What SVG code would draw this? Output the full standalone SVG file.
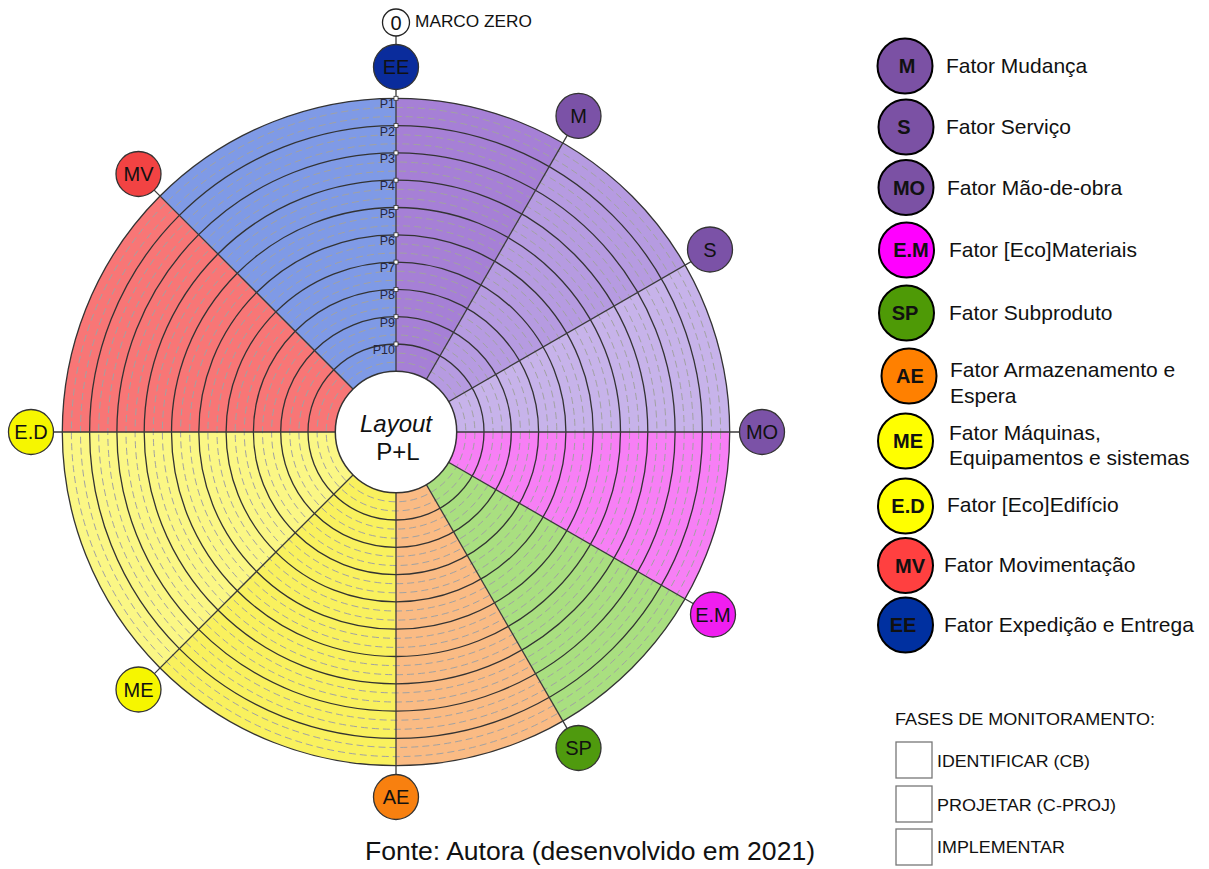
<svg xmlns="http://www.w3.org/2000/svg" width="1209" height="869" viewBox="0 0 1209 869">
  <defs>
    <style>
      text { font-family: "Liberation Sans", Arial, sans-serif; fill: #111; }
      .ring { fill: none; stroke: #333; stroke-width: 1.3; }
      .dash { fill: none; stroke: #a2a2a2; stroke-width: 1; stroke-dasharray: 7 4; }
      .spoke { stroke: #3a3a3a; stroke-width: 1.3; }
      .badge { stroke: #333; stroke-width: 1.3; }
      .badge-t { font-size: 20px; text-anchor: middle; }
      .plab { font-size: 12.5px; text-anchor: end; fill: #262640; }
      .mark { fill: #fff; stroke: #333; stroke-width: 0.8; }
      .leg-c { stroke: #000; stroke-width: 2; }
      .leg-b { font-size: 20px; font-weight: bold; text-anchor: middle; }
      .leg-t { font-size: 21px; }
      .phase { fill: #fff; stroke: #777; stroke-width: 1.3; }
      .phase-t { font-size: 17px; }
    </style>
  </defs>

  <!-- sector wedges, centre (396,432), outer radius 333.7 -->
  <g id="sectors">
    <path d="M396 432 L396 98.3 A333.7 333.7 0 0 0 160.04 196.04 Z" fill="#7f9ae6"/>
    <path d="M396 432 L160.04 196.04 A333.7 333.7 0 0 0 62.3 432 Z" fill="#f87676"/>
    <path d="M396 432 L62.3 432 A333.7 333.7 0 0 0 160.04 667.96 Z" fill="#fbf785"/>
    <path d="M396 432 L160.04 667.96 A333.7 333.7 0 0 0 396 765.7 Z" fill="#f9f15e"/>
    <path d="M396 432 L396 765.7 A333.7 333.7 0 0 0 562.85 721 Z" fill="#fabb84"/>
    <path d="M396 432 L562.85 721 A333.7 333.7 0 0 0 685 598.85 Z" fill="#a9df80"/>
    <path d="M396 432 L685 598.85 A333.7 333.7 0 0 0 729.7 432 Z" fill="#f77ff5"/>
    <path d="M396 432 L729.7 432 A333.7 333.7 0 0 0 685 265.15 Z" fill="#c7b3ea"/>
    <path d="M396 432 L685 265.15 A333.7 333.7 0 0 0 562.85 143 Z" fill="#b69be1"/>
    <path d="M396 432 L562.85 143 A333.7 333.7 0 0 0 396 98.3 Z" fill="#a680d6"/>
  </g>

  <!-- concentric rings: dashed sub-divisions and solid P1..P10 levels -->
  <g id="rings">
    <circle class="dash" cx="396" cy="432" r="69.8"/>
    <circle class="dash" cx="396" cy="432" r="78.9"/>
    <circle class="dash" cx="396" cy="432" r="97.1"/>
    <circle class="dash" cx="396" cy="432" r="106.2"/>
    <circle class="dash" cx="396" cy="432" r="124.4"/>
    <circle class="dash" cx="396" cy="432" r="133.5"/>
    <circle class="dash" cx="396" cy="432" r="151.7"/>
    <circle class="dash" cx="396" cy="432" r="160.8"/>
    <circle class="dash" cx="396" cy="432" r="179"/>
    <circle class="dash" cx="396" cy="432" r="188.1"/>
    <circle class="dash" cx="396" cy="432" r="206.3"/>
    <circle class="dash" cx="396" cy="432" r="215.4"/>
    <circle class="dash" cx="396" cy="432" r="233.6"/>
    <circle class="dash" cx="396" cy="432" r="242.7"/>
    <circle class="dash" cx="396" cy="432" r="260.9"/>
    <circle class="dash" cx="396" cy="432" r="270"/>
    <circle class="dash" cx="396" cy="432" r="288.2"/>
    <circle class="dash" cx="396" cy="432" r="297.3"/>
    <circle class="dash" cx="396" cy="432" r="315.5"/>
    <circle class="dash" cx="396" cy="432" r="324.6"/>
    <circle class="ring" cx="396" cy="432" r="88"/>
    <circle class="ring" cx="396" cy="432" r="115.3"/>
    <circle class="ring" cx="396" cy="432" r="142.6"/>
    <circle class="ring" cx="396" cy="432" r="169.9"/>
    <circle class="ring" cx="396" cy="432" r="197.2"/>
    <circle class="ring" cx="396" cy="432" r="224.5"/>
    <circle class="ring" cx="396" cy="432" r="251.8"/>
    <circle class="ring" cx="396" cy="432" r="279.1"/>
    <circle class="ring" cx="396" cy="432" r="306.4"/>
    <circle class="ring" cx="396" cy="432" r="333.7"/>
  </g>

  <!-- spokes from the core to each factor badge -->
  <g id="connectors">
    <line class="spoke" x1="396" y1="36" x2="396" y2="432"/>
    <line class="spoke" x1="396" y1="432" x2="578.5" y2="115.9"/>
    <line class="spoke" x1="396" y1="432" x2="712.1" y2="249.5"/>
    <line class="spoke" x1="396" y1="432" x2="761" y2="432"/>
    <line class="spoke" x1="396" y1="432" x2="712.1" y2="614.5"/>
    <line class="spoke" x1="396" y1="432" x2="578.5" y2="748.1"/>
    <line class="spoke" x1="396" y1="432" x2="396" y2="797"/>
    <line class="spoke" x1="396" y1="432" x2="137.9" y2="690.1"/>
    <line class="spoke" x1="396" y1="432" x2="31" y2="432"/>
    <line class="spoke" x1="396" y1="432" x2="137.9" y2="173.9"/>
  </g>

  <!-- level markers along the zero axis -->
  <g id="levels">
    <rect class="mark" x="394" y="96.3" width="4" height="4"/>
    <rect class="mark" x="394" y="123.6" width="4" height="4"/>
    <rect class="mark" x="394" y="150.9" width="4" height="4"/>
    <rect class="mark" x="394" y="178.2" width="4" height="4"/>
    <rect class="mark" x="394" y="205.5" width="4" height="4"/>
    <rect class="mark" x="394" y="232.8" width="4" height="4"/>
    <rect class="mark" x="394" y="260.1" width="4" height="4"/>
    <rect class="mark" x="394" y="287.4" width="4" height="4"/>
    <rect class="mark" x="394" y="314.7" width="4" height="4"/>
    <rect class="mark" x="394" y="342" width="4" height="4"/>
    <text class="plab" x="395" y="108.3">P1</text>
    <text class="plab" x="395" y="135.6">P2</text>
    <text class="plab" x="395" y="162.9">P3</text>
    <text class="plab" x="395" y="190.2">P4</text>
    <text class="plab" x="395" y="217.5">P5</text>
    <text class="plab" x="395" y="244.8">P6</text>
    <text class="plab" x="395" y="272.1">P7</text>
    <text class="plab" x="395" y="299.4">P8</text>
    <text class="plab" x="395" y="326.7">P9</text>
    <text class="plab" x="395" y="354">P10</text>
  </g>

  <!-- core -->
  <g id="core">
    <circle cx="396" cy="432" r="60.7" fill="#fff" stroke="#333" stroke-width="1.5"/>
    <text x="396" y="432" font-size="24" font-style="italic" text-anchor="middle">Layout</text>
    <text x="398" y="460" font-size="24" text-anchor="middle">P+L</text>
  </g>

  <!-- origin marker -->
  <g id="marco-zero">
    <circle cx="396" cy="22.5" r="13.5" fill="#fff" stroke="#222" stroke-width="1.3"/>
    <text x="396" y="30" font-size="20" text-anchor="middle">0</text>
    <text x="415" y="26.5" font-size="16.5" textLength="117" lengthAdjust="spacingAndGlyphs">MARCO ZERO</text>
  </g>

  <!-- factor badges -->
  <g id="badge-EE"><circle class="badge" cx="396" cy="67" r="22.5" fill="#0a2c9c"/><text class="badge-t" x="396" y="74">EE</text></g>
  <g id="badge-M"><circle class="badge" cx="578.5" cy="115.9" r="22.5" fill="#7b52a7"/><text class="badge-t" x="578.5" y="123">M</text></g>
  <g id="badge-S"><circle class="badge" cx="710" cy="249.5" r="22.5" fill="#7b52a7"/><text class="badge-t" x="710" y="256.5">S</text></g>
  <g id="badge-MO"><circle class="badge" cx="762" cy="432" r="22.5" fill="#7b52a7"/><text class="badge-t" x="762" y="439">MO</text></g>
  <g id="badge-EM"><circle class="badge" cx="713" cy="614.5" r="22.5" fill="#f01ef0"/><text class="badge-t" x="713" y="621.5">E.M</text></g>
  <g id="badge-SP"><circle class="badge" cx="578.5" cy="748" r="22.5" fill="#4f9a0e"/><text class="badge-t" x="578.5" y="755">SP</text></g>
  <g id="badge-AE"><circle class="badge" cx="396" cy="797" r="22.5" fill="#f8800f"/><text class="badge-t" x="396" y="804">AE</text></g>
  <g id="badge-ME"><circle class="badge" cx="138.5" cy="689.5" r="22.5" fill="#f6f600"/><text class="badge-t" x="138.5" y="696.5">ME</text></g>
  <g id="badge-ED"><circle class="badge" cx="31" cy="432" r="22.5" fill="#f6f600"/><text class="badge-t" x="31" y="439">E.D</text></g>
  <g id="badge-MV"><circle class="badge" cx="138.5" cy="174" r="22.5" fill="#f24343"/><text class="badge-t" x="138.5" y="181">MV</text></g>

  <!-- factor legend -->
  <g id="legend-M"><circle class="leg-c" cx="905" cy="66" r="27.5" fill="#7b51a4"/><text class="leg-b" x="907" y="73">M</text><text class="leg-t" x="946" y="73">Fator Mudança</text></g>
  <g id="legend-S"><circle class="leg-c" cx="906" cy="127" r="27.5" fill="#7b51a4"/><text class="leg-b" x="904" y="134">S</text><text class="leg-t" x="946" y="134">Fator Serviço</text></g>
  <g id="legend-MO"><circle class="leg-c" cx="906" cy="187.5" r="27.5" fill="#7b51a4"/><text class="leg-b" x="909" y="194.5">MO</text><text class="leg-t" x="947" y="194.5">Fator Mão-de-obra</text></g>
  <g id="legend-EM"><circle class="leg-c" cx="906.5" cy="250" r="27.5" fill="#ff00ff"/><text class="leg-b" x="911" y="257">E.M</text><text class="leg-t" x="949" y="257">Fator [Eco]Materiais</text></g>
  <g id="legend-SP"><circle class="leg-c" cx="906.5" cy="313" r="27.5" fill="#4e9a06"/><text class="leg-b" x="905" y="320">SP</text><text class="leg-t" x="949" y="320">Fator Subproduto</text></g>
  <g id="legend-AE"><circle class="leg-c" cx="909" cy="376" r="27.5" fill="#ff8000"/><text class="leg-b" x="910" y="383">AE</text><text class="leg-t" x="950" y="377">Fator Armazenamento e</text><text class="leg-t" x="950" y="403">Espera</text></g>
  <g id="legend-ME"><circle class="leg-c" cx="905.5" cy="441" r="27.5" fill="#ffff00"/><text class="leg-b" x="908" y="448">ME</text><text class="leg-t" x="949" y="440">Fator Máquinas,</text><text class="leg-t" x="949" y="465">Equipamentos e sistemas</text></g>
  <g id="legend-ED"><circle class="leg-c" cx="905.5" cy="506" r="27.5" fill="#ffff00"/><text class="leg-b" x="908" y="513">E.D</text><text class="leg-t" x="947" y="512">Fator [Eco]Edifício</text></g>
  <g id="legend-MV"><circle class="leg-c" cx="905.5" cy="565.5" r="27.5" fill="#ff4040"/><text class="leg-b" x="910" y="572.5">MV</text><text class="leg-t" x="944" y="572">Fator Movimentação</text></g>
  <g id="legend-EE"><circle class="leg-c" cx="905.5" cy="625" r="27.5" fill="#0030a0"/><text class="leg-b" x="903" y="632">EE</text><text class="leg-t" x="944" y="632">Fator Expedição e Entrega</text></g>

  <!-- monitoring phases -->
  <g id="phases">
    <text x="895" y="725" font-size="16" textLength="260" lengthAdjust="spacingAndGlyphs">FASES DE MONITORAMENTO:</text>
    <rect class="phase" x="896" y="742" width="36" height="36"/>
    <text class="phase-t" x="937" y="767" textLength="153" lengthAdjust="spacingAndGlyphs">IDENTIFICAR (CB)</text>
    <rect class="phase" x="896" y="786" width="36" height="36"/>
    <text class="phase-t" x="937" y="810.5" textLength="179" lengthAdjust="spacingAndGlyphs">PROJETAR (C-PROJ)</text>
    <rect class="phase" x="896" y="829" width="36" height="36"/>
    <text class="phase-t" x="937" y="853" textLength="128" lengthAdjust="spacingAndGlyphs">IMPLEMENTAR</text>
  </g>

  <!-- source caption -->
  <text x="365" y="860" font-size="26" textLength="450" lengthAdjust="spacingAndGlyphs">Fonte: Autora (desenvolvido em 2021)</text>
</svg>
